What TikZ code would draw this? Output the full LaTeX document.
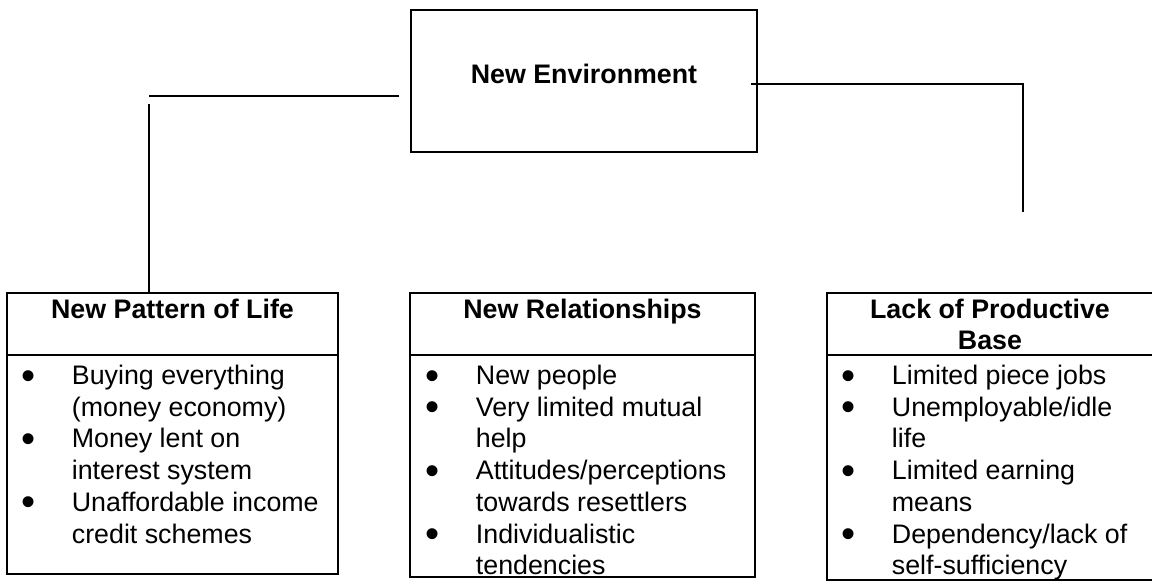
\documentclass[tikz,border=0pt]{standalone}
\usepackage{graphicx}
\usepackage{fontspec}
\setmainfont{Liberation Sans}
\newcommand{\mybul}{\makebox[43pt][l]{\makebox[0pt]{\raisebox{-4.6pt}{\scalebox{1.5}{\textbullet}}}}}
\newcommand{\myind}{\hspace*{43pt}}
\begin{document}
\begin{tikzpicture}[x=1pt,y=-1pt,line width=1.8pt,
  frame/.style={draw=black,rectangle,inner sep=0pt},
  headtxt/.style={inner sep=0pt,anchor=base,font=\fontsize{26.8}{31.5}\selectfont\bfseries},
  listtxt/.style={inner sep=0pt,anchor=base west,font=\fontsize{26.8}{31.7}\selectfont},
  conn/.style={draw=black,line width=1.8pt}]
\useasboundingbox (0,0) rectangle (1152,581);
\fill[white] (0,0) rectangle (1152,581);

% top box
\node[frame,minimum width=346pt,minimum height=142pt] (env) at (584,81) {};
\node[headtxt] (envT) at (584,83.5) {New Environment};

% lower boxes
\node[frame,minimum width=331pt,minimum height=281pt] (pat) at (172.5,433.5) {};
\node[frame,minimum width=345pt,minimum height=284pt] (rel) at (582.5,435) {};
\node[frame,minimum width=326pt,minimum height=287pt] (lack) at (990,436.5) {};

% header dividers
\coordinate (hd) at (0,355);
\draw[conn] (pat.west |- hd) -- (pat.east |- hd);
\draw[conn] (rel.west |- hd) -- (rel.east |- hd);
\draw[conn] (lack.west |- hd) -- (lack.east |- hd);

% headers
\node[headtxt] (patT) at (172.5,318) {New Pattern of Life};
\node[headtxt] (relT) at (582.5,318) {New Relationships};
\node[headtxt] (lackT) at (990,318) {\begin{tabular}[t]{@{}c@{}}Lack of Productive\\Base\end{tabular}};

% lists
\node[listtxt] (patL) at (28,384.5) {\begin{tabular}[t]{@{}l@{}}
\mybul Buying everything\\
\myind (money economy)\\
\mybul Money lent on\\
\myind interest system\\
\mybul Unaffordable income\\
\myind credit schemes
\end{tabular}};
\node[listtxt] (relL) at (432,384.5) {\begin{tabular}[t]{@{}l@{}}
\mybul New people\\
\mybul Very limited mutual\\
\myind help\\
\mybul Attitudes/perceptions\\
\myind towards resettlers\\
\mybul Individualistic\\
\myind tendencies
\end{tabular}};
\node[listtxt] (lackL) at (848,384.5) {\begin{tabular}[t]{@{}l@{}}
\mybul Limited piece jobs\\
\mybul Unemployable/idle\\
\myind life\\
\mybul Limited earning\\
\myind means\\
\mybul Dependency/lack of\\
\myind self-sufficiency
\end{tabular}};

% connectors
\coordinate (l1) at (399,96);
\coordinate (l2) at (149,96);
\coordinate (l3) at (149,104);
\draw[conn] (l1) -- (l2);
\draw[conn] (l3) -- (l3 |- pat.north);
\coordinate (r1) at (751,84);
\coordinate (r2) at (1023,84);
\coordinate (r3) at (1023,212);
\draw[conn] (r1) -- (r2) -- (r3);
\end{tikzpicture}
\end{document}
